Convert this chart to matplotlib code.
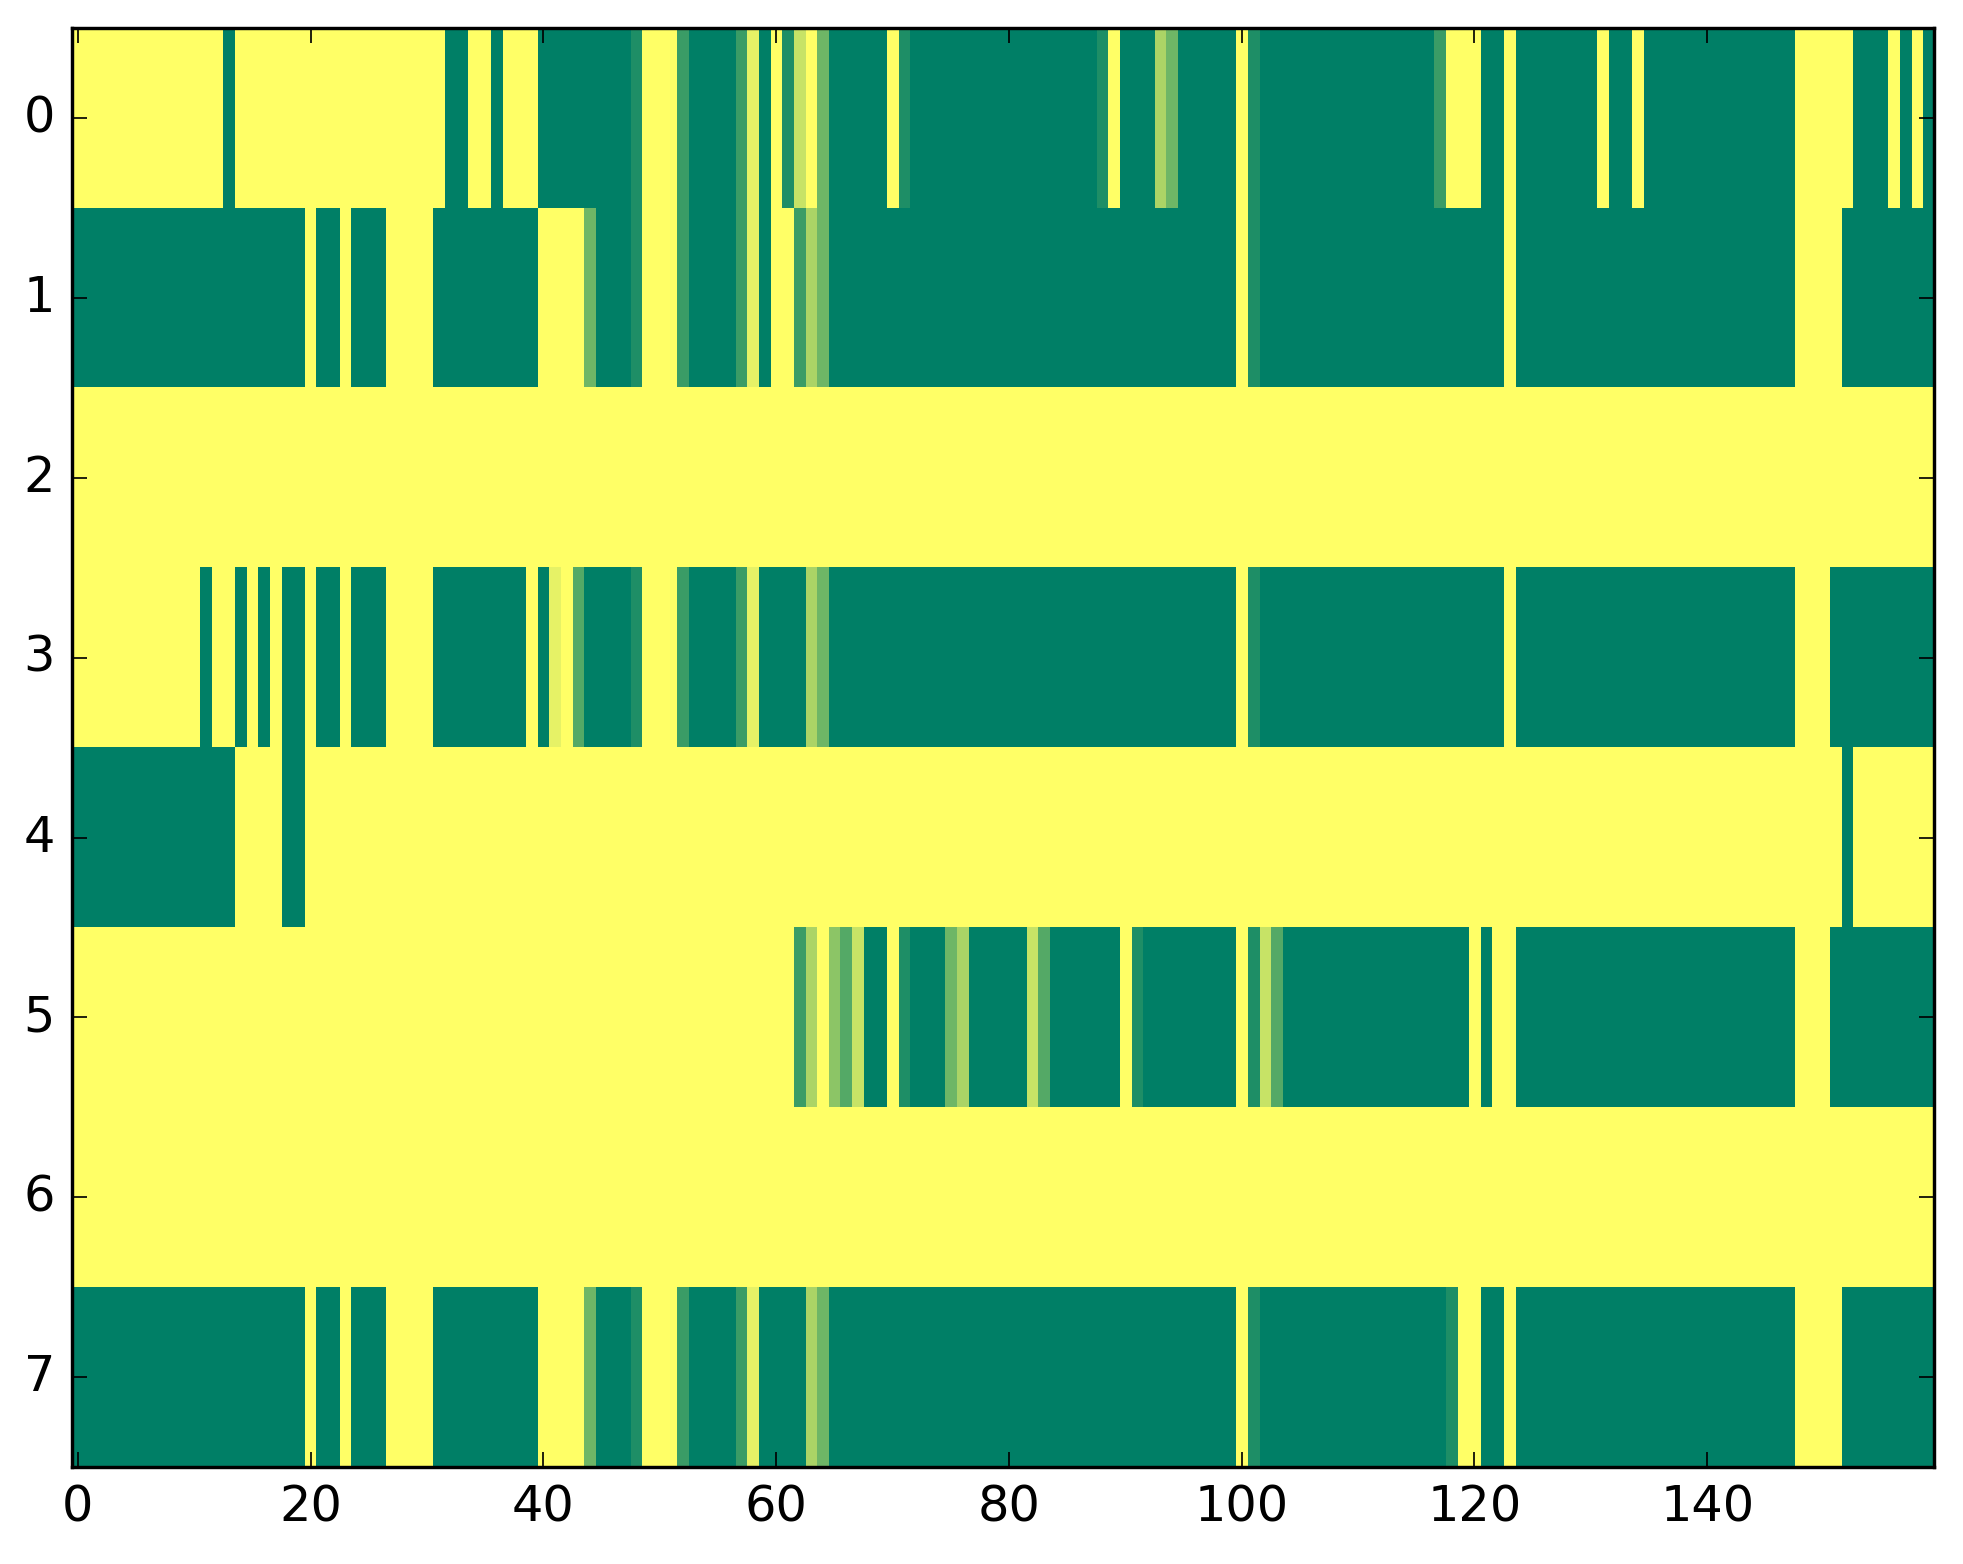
import numpy as np
import matplotlib
matplotlib.use('Agg')
import matplotlib.pyplot as plt

# Colour levels (summer colormap, 0 = green, 1 = yellow)
LEVELS = {'G': 0.0, 'a': 0.12, 'b': 0.23, 'c': 0.33, 'd': 0.43,
          'e': 0.55, 'f': 0.67, 'g': 0.78, 'h': 0.9, 'Y': 1.0}

# Each row as runs of (level code, number of columns), 160 columns per row
row0 = [('Y', 13), ('G', 1), ('Y', 18), ('G', 2), ('Y', 2), ('G', 1), ('Y', 3),
        ('G', 8), ('a', 1), ('Y', 3), ('b', 1), ('G', 4), ('b', 1), ('h', 1),
        ('G', 1), ('Y', 1), ('a', 1), ('g', 1), ('Y', 1), ('d', 1), ('G', 5),
        ('Y', 1), ('a', 1), ('G', 16), ('a', 1), ('Y', 1), ('G', 3), ('f', 1),
        ('d', 1), ('G', 5), ('Y', 1), ('a', 1), ('G', 15), ('b', 1), ('Y', 3),
        ('G', 2), ('Y', 1), ('G', 7), ('Y', 1), ('G', 2), ('Y', 1), ('G', 13),
        ('Y', 5), ('G', 3), ('Y', 1), ('G', 1), ('Y', 1), ('G', 1)]
row1 = [('G', 20), ('Y', 1), ('G', 2), ('Y', 1), ('G', 3), ('Y', 4), ('G', 9),
        ('Y', 4), ('d', 1), ('G', 3), ('a', 1), ('Y', 3), ('b', 1), ('G', 4),
        ('b', 1), ('h', 1), ('G', 1), ('Y', 2), ('b', 1), ('f', 1), ('d', 1),
        ('G', 35), ('Y', 1), ('a', 1), ('G', 21), ('Y', 1), ('G', 24), ('Y', 4),
        ('G', 8)]
row2 = [('Y', 160)]
row3 = [('Y', 11), ('G', 1), ('Y', 2), ('G', 1), ('Y', 1), ('G', 1), ('Y', 1),
        ('G', 2), ('Y', 1), ('G', 2), ('Y', 1), ('G', 3), ('Y', 4), ('G', 8),
        ('Y', 1), ('G', 1), ('h', 1), ('Y', 1), ('c', 1), ('G', 4), ('a', 1),
        ('Y', 3), ('b', 1), ('G', 4), ('b', 1), ('h', 1), ('G', 4), ('f', 1),
        ('d', 1), ('G', 35), ('Y', 1), ('a', 1), ('G', 21), ('Y', 1), ('G', 24),
        ('Y', 3), ('G', 9)]
row4 = [('G', 14), ('Y', 4), ('G', 2), ('Y', 132), ('G', 1), ('Y', 7)]
row5 = [('Y', 62), ('b', 1), ('f', 1), ('Y', 1), ('e', 1), ('c', 1), ('g', 1),
        ('G', 2), ('Y', 1), ('a', 1), ('G', 3), ('d', 1), ('f', 1), ('G', 5),
        ('g', 1), ('c', 1), ('G', 6), ('Y', 1), ('a', 1), ('G', 8), ('Y', 1),
        ('a', 1), ('g', 1), ('c', 1), ('G', 16), ('Y', 1), ('G', 1), ('Y', 2),
        ('G', 24), ('Y', 3), ('G', 9)]
row6 = [('Y', 160)]
row7 = [('G', 20), ('Y', 1), ('G', 2), ('Y', 1), ('G', 3), ('Y', 4), ('G', 9),
        ('Y', 4), ('d', 1), ('G', 3), ('a', 1), ('Y', 3), ('b', 1), ('G', 4),
        ('b', 1), ('h', 1), ('G', 4), ('f', 1), ('d', 1), ('G', 35), ('Y', 1),
        ('a', 1), ('G', 16), ('a', 1), ('Y', 2), ('G', 2), ('Y', 1), ('G', 24),
        ('Y', 4), ('G', 8)]

rows = [row0, row1, row2, row3, row4, row5, row6, row7]
xticks = [0, 20, 40, 60, 80, 100, 120, 140]
yticks = [0, 1, 2, 3, 4, 5, 6, 7]


def expand(runs):
    """
    Turn a list of runs into one row of values.
    """
    vals = []
    for code, n in runs:
        vals.extend([LEVELS[code]] * n)
    return vals


def main():
    data = np.array([expand(r) for r in rows])

    plt.style.use('classic')
    plt.rcParams['font.family'] = ['DejaVu Sans']
    plt.rcParams['font.size'] = 14.5

    fig = plt.figure(figsize=(1963 / 245, 1564 / 245), dpi=245)
    ax = fig.add_axes([0.0367, 0.0621, 0.9486, 0.9197])
    ax.imshow(data, cmap='summer', vmin=0, vmax=1, aspect='auto',
              interpolation='nearest')
    ax.set_xticks(xticks)
    ax.set_yticks(yticks)
    ax.tick_params(direction='in', top=True, right=True, length=4.5, pad=5)
    fig.savefig('out.png', dpi=245)


if __name__ == "__main__":
    main()
